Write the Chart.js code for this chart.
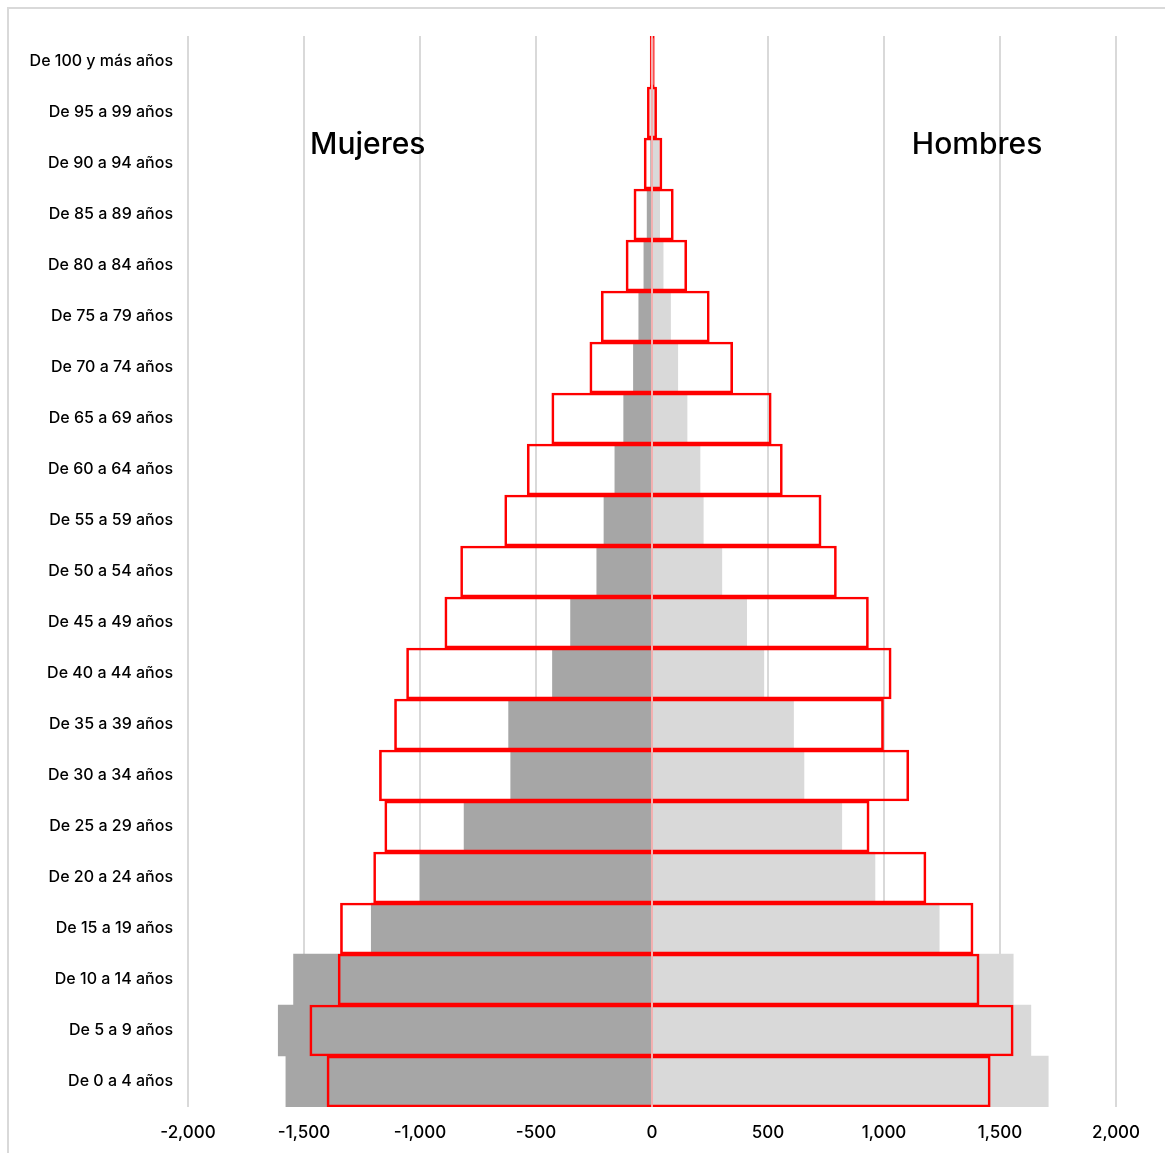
<!DOCTYPE html>
<html>
<head>
<meta charset="utf-8">
<script src="https://cdn.jsdelivr.net/npm/chart.js@4/dist/chart.umd.min.js"></script>
<style>
  html, body { margin: 0; padding: 0; background: #ffffff; overflow: hidden; }
  #frame { position: absolute; left: 7px; top: 7px; width: 1200px; height: 1200px; border: 2px solid #d9d9d9; box-sizing: border-box; }
  #wrap { position: absolute; left: 0; top: 0; width: 1165px; height: 1153px; }
</style>
</head>
<body>
<div id="frame"></div>
<div id="wrap"><canvas id="c" width="1165" height="1153"></canvas></div>
<script>
const categories = ["De 100 y más años","De 95 a 99 años","De 90 a 94 años","De 85 a 89 años","De 80 a 84 años","De 75 a 79 años","De 70 a 74 años","De 65 a 69 años","De 60 a 64 años","De 55 a 59 años","De 50 a 54 años","De 45 a 49 años","De 40 a 44 años","De 35 a 39 años","De 30 a 34 años","De 25 a 29 años","De 20 a 24 años","De 15 a 19 años","De 10 a 14 años","De 5 a 9 años","De 0 a 4 años"];
const womenGray = [-1, -3, -6, -21, -35, -57, -80, -122, -160, -207, -238, -351, -429, -618, -609, -810, -999, -1210, -1545, -1611, -1578];
const menGray = [3, 14, 30, 33, 48, 80, 111, 151, 207, 221, 301, 408, 482, 610, 655, 818, 961, 1238, 1557, 1633, 1708];
const womenRed = [-8, -20, -34, -78, -112, -219, -268, -432, -538, -635, -825, -893, -1058, -1110, -1175, -1152, -1200, -1343, -1353, -1475, -1401];
const menRed = [10, 20, 43, 92, 150, 247, 348, 514, 562, 729, 795, 933, 1031, 998, 1107, 936, 1181, 1384, 1410, 1557, 1458];
const xTicks = [-2000, -1500, -1000, -500, 0, 500, 1000, 1500, 2000];
const sideTitles = [{text: "Mujeres", value: -1474}, {text: "Hombres", value: 1120}];

const FONT = "Inter, 'Open Sans', sans-serif";

const overlayPlugin = {
  id: 'overlay',
  afterDatasetsDraw(chart) {
    const ctx = chart.ctx;
    const xs = chart.scales.x;
    const ys = chart.scales.y;
    const x0 = xs.getPixelForValue(0);
    ctx.save();
    ctx.strokeStyle = '#f3b0b0';
    ctx.lineWidth = 2;
    ctx.beginPath();
    ctx.moveTo(x0, chart.chartArea.top);
    ctx.lineTo(x0, chart.chartArea.bottom);
    ctx.stroke();
    ctx.fillStyle = '#000000';
    ctx.font = "500 30px " + FONT;
    ctx.textBaseline = 'middle';
    ctx.textAlign = 'left';
    const yT = ys.getPixelForValue(2) - 19;
    sideTitles.forEach(t => ctx.fillText(t.text, xs.getPixelForValue(t.value), yT));
    ctx.restore();
  }
};

new Chart(document.getElementById('c'), {
  type: 'bar',
  data: {
    labels: categories,
    datasets: [
      { label: 'Mujeres (red)', data: womenRed, backgroundColor: 'rgba(0,0,0,0)', borderColor: '#ff0000', borderWidth: 2, borderSkipped: 'start', order: 0 },
      { label: 'Hombres (red)', data: menRed, backgroundColor: 'rgba(0,0,0,0)', borderColor: '#ff0000', borderWidth: 2, borderSkipped: 'start', order: 0 },
      { label: 'Mujeres', data: womenGray, backgroundColor: '#a6a6a6', borderWidth: 0, order: 1 },
      { label: 'Hombres', data: menGray, backgroundColor: '#d9d9d9', borderWidth: 0, order: 1 }
    ]
  },
  options: {
    indexAxis: 'y',
    responsive: false,
    animation: false,
    devicePixelRatio: 1,
    layout: { padding: { top: 36, right: 49, bottom: 0, left: 0 } },
    datasets: { bar: { grouped: false, barPercentage: 1, categoryPercentage: 1 } },
    plugins: { legend: { display: false }, tooltip: { enabled: false } },
    scales: {
      x: {
        min: -2000, max: 2000,
        afterBuildTicks(scale) { scale.ticks = xTicks.map(v => ({ value: v })); },
        afterFit(scale) { scale.height = 46; },
        grid: { color: '#d9d9d9', lineWidth: 2, drawTicks: false },
        border: { display: false },
        ticks: { color: '#000000', font: { family: FONT, size: 17, weight: '500' }, padding: 16,
          callback: v => v.toLocaleString('en-US') }
      },
      y: {
        afterFit(scale) { scale.width = 188; },
        grid: { display: false, drawTicks: false },
        border: { display: false },
        ticks: { color: '#000000', font: { family: FONT, size: 16, weight: '500' }, padding: 15, autoSkip: false }
      }
    }
  },
  plugins: [overlayPlugin]
});
</script>
</body>
</html>
